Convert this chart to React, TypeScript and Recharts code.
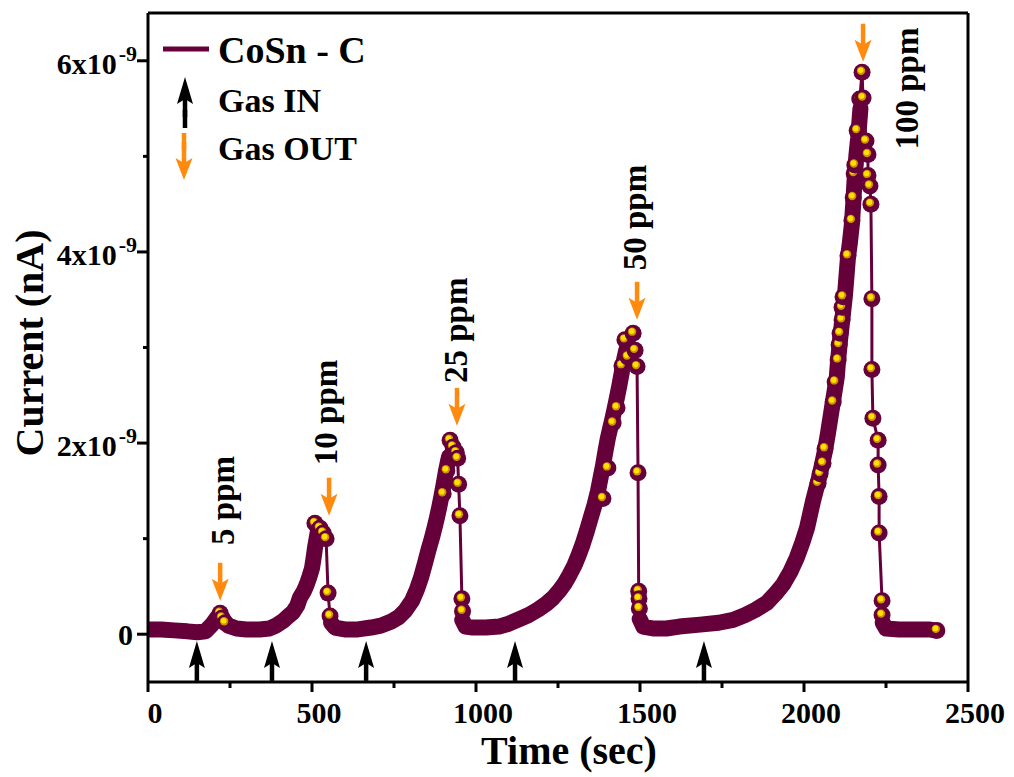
import React from "react";
import { ComposedChart, Line, Scatter, XAxis, YAxis, ReferenceLine } from "recharts";

// current values are in units of 1e-9 A (axis labels show "n x10^-9")
const bandTime = [
  0, 40, 80, 120, 150, 175, 195, 212, 228, 245, 270, 300, 340, 370, 390, 412, 428, 442, 455, 463, 475, 484, 492, 500, 505, 509, 514, 518,
  549,
  558, 570, 600, 640, 680, 710, 740, 765, 785, 805, 820, 833, 845, 855, 865, 874, 881, 888, 895, 902, 908, 914, 918,
  955,
  958, 968, 990, 1030, 1070, 1100, 1134, 1160, 1190, 1215, 1235, 1255, 1270, 1285, 1300, 1312, 1325, 1338, 1350, 1362, 1372, 1380, 1387, 1395, 1402, 1408, 1415, 1422, 1430, 1437, 1445, 1452, 1458, 1463,
  1495,
  1499, 1510, 1540, 1580, 1620, 1683, 1740, 1784, 1820, 1855, 1887, 1912, 1936, 1958, 1978, 1995, 2009, 2028, 2049, 2064, 2073, 2089, 2100, 2104, 2110, 2119, 2125, 2134, 2140, 2146, 2150, 2155, 2160, 2165, 2172,
  2220,
  2240, 2250, 2290, 2340, 2380, 2400,
];
const bandCurrent = [
  0.05, 0.05, 0.04, 0.03, 0.02, 0.03, 0.1, 0.18, 0.15, 0.09, 0.06, 0.05, 0.05, 0.06, 0.09, 0.14, 0.19, 0.23, 0.3, 0.38, 0.45, 0.52, 0.6, 0.69, 0.8, 0.9, 1.0, 1.08,
  null,
  0.12, 0.07, 0.05, 0.05, 0.07, 0.09, 0.13, 0.18, 0.25, 0.35, 0.47, 0.6, 0.75, 0.88, 1.0, 1.12, 1.22, 1.33, 1.45, 1.58, 1.7, 1.8, 1.86,
  null,
  0.15, 0.08, 0.07, 0.07, 0.08, 0.11, 0.16, 0.2, 0.26, 0.32, 0.38, 0.46, 0.53, 0.62, 0.72, 0.82, 0.94, 1.08, 1.22, 1.36, 1.5, 1.64, 1.76, 1.92, 2.05, 2.14, 2.24, 2.35, 2.48, 2.6, 2.75, 2.88, 2.97, 3.02,
  null,
  0.16, 0.08, 0.06, 0.06, 0.08, 0.1, 0.12, 0.15, 0.2, 0.26, 0.33, 0.42, 0.52, 0.65, 0.8, 0.96, 1.11, 1.4, 1.68, 1.92, 2.1, 2.45, 2.69, 2.87, 3.08, 3.36, 3.55, 3.94, 4.1, 4.29, 4.5, 4.8, 5.02, 5.19, 5.5,
  null,
  0.12, 0.06, 0.05, 0.05, 0.05, 0.04,
];

// individually visible markers (peaks, drops after gas out)
const peakTime = [
  220, 226, 235,
  300,
  509, 524, 534, 543, 549, 555,
  700,
  900, 911, 921, 930, 940, 944, 947, 951, 957, 959,
  1200,
  1387, 1402, 1418, 1430, 1445, 1454, 1463, 1479, 1485, 1491, 1494, 1496, 1497, 1498,
  1800,
  2043, 2049, 2058, 2064, 2089, 2095, 2104, 2107, 2110, 2116, 2116, 2119, 2134, 2146, 2150, 2153, 2155, 2162, 2170, 2177, 2180, 2189, 2195, 2195, 2201, 2204, 2207, 2207, 2210, 2226, 2226, 2229, 2229, 2238, 2238,
  2300,
  2405,
];
const peakCurrent = [
  0.22, 0.17, 0.12,
  null,
  1.16, 1.11, 1.06, 1.0, 0.43, 0.19,
  null,
  1.47, 1.71, 2.03, 1.96, 1.9, 1.84, 1.57, 1.24, 0.37, 0.24,
  null,
  1.42, 1.74, 2.21, 2.37, 2.81, 3.08, 2.9, 3.15, 2.97, 2.8, 1.69, 0.45, 0.37, 0.27,
  null,
  1.58, 1.68, 1.79, 1.94, 2.43, 2.64, 2.87, 3.03, 3.15, 3.29, 3.42, 3.53, 3.96, 4.33, 4.57, 4.82, 4.91, 5.27, 5.6, 5.88, 5.61, 5.16, 5.02, 4.8, 4.69, 4.5, 3.51, 2.77, 2.26, 2.03, 1.77, 1.44, 1.06, 0.35, 0.2,
  null,
  0.04,
];

const gasInTime = [149, 378, 665, 1119, 1695];
const gasInLevel = [-0.07, -0.07, -0.07, -0.07, -0.07];
const gasOutTime = [220, 552, 942, 1491, 2180];
const gasOutLevel = [0.35, 1.24, 2.18, 3.29, 5.99];

const concLabels = ["5 ppm", "10 ppm", "25 ppm", "50 ppm", "100 ppm"];
const concTime = [229, 543, 939, 1485, 2314];
const concLevel = [1.4, 2.32, 3.18, 4.36, 5.71];

const xTicks = [0, 250, 500, 750, 1000, 1250, 1500, 1750, 2000, 2250, 2500];
const yTicks = [0, 1, 2, 3, 4, 5, 6];
const legendLabels = ["CoSn - C", "Gas IN", "Gas OUT"];

const MAROON = "#66003A";
const ORANGE = "#FF8A0D";
const FONT = "'Liberation Serif', 'Times New Roman', serif";

const bandData = bandTime.map((t, i) => ({ t, current: bandCurrent[i] }));
const peakData = peakTime.map((t, i) => ({ t, current: peakCurrent[i] }));
const gasInData = gasInTime.map((t, i) => ({ t, current: gasInLevel[i] }));
const gasOutData = gasOutTime.map((t, i) => ({ t, current: gasOutLevel[i] }));
const concData = concTime.map((t, i) => ({ t, current: concLevel[i], label: concLabels[i] }));

const Ball = (props: any) => {
  const { cx, cy, value, index } = props;
  if (value == null || cx == null || cy == null || isNaN(cy)) return <g key={`b-${index}`} />;
  return (
    <g key={`b-${index}`}>
      <circle cx={cx} cy={cy} r={8.5} fill={MAROON} />
      <circle cx={cx - 1} cy={cy - 1.5} r={4.2} fill="#D08E00" />
      <circle cx={cx - 1.4} cy={cy - 2} r={2.8} fill="#FFE100" />
    </g>
  );
};

const UpArrow = ({ cx, cy }: any) => (
  <g>
    <line x1={cx} y1={cy + 18} x2={cx} y2={cy + 40} stroke="#000" strokeWidth={4.5} />
    <path d={`M${cx},${cy} L${cx - 8},${cy + 27} L${cx},${cy + 22} L${cx + 8},${cy + 27} Z`} fill="#000" />
  </g>
);

const DownArrow = ({ cx, cy }: any) => (
  <g>
    <line x1={cx} y1={cy - 38} x2={cx} y2={cy - 14} stroke={ORANGE} strokeWidth={4.5} />
    <path d={`M${cx},${cy} L${cx - 8.5},${cy - 22} L${cx},${cy - 17} L${cx + 8.5},${cy - 22} Z`} fill={ORANGE} />
  </g>
);

const ConcLabel = ({ cx, cy, payload }: any) => (
  <text
    x={cx}
    y={cy}
    transform={`rotate(-90, ${cx}, ${cy})`}
    textAnchor="middle"
    dominantBaseline="central"
    fontFamily={FONT}
    fontWeight={700}
    fontSize={33}
    fill="#000"
  >
    {payload.label}
  </text>
);

const XTick = ({ x, y, payload }: any) => {
  const v = payload.value;
  const major = v % 500 === 0;
  return (
    <g>
      <line x1={x} y1={y} x2={x} y2={y + (major ? 10 : 6)} stroke="#000" strokeWidth={3} />
      {major && (
        <text x={x + 7} y={y + 41} textAnchor="middle" fontFamily={FONT} fontWeight={700} fontSize={30} fill="#000">
          {v}
        </text>
      )}
    </g>
  );
};

const YTick = ({ x, y, payload }: any) => {
  const v = payload.value;
  const major = v % 2 === 0;
  return (
    <g>
      <line x1={x} y1={y} x2={x - (major ? 11 : 5)} y2={y} stroke="#000" strokeWidth={3} />
      {major && v === 0 && (
        <text x={x - 15} y={y + 11} textAnchor="end" fontFamily={FONT} fontWeight={700} fontSize={30} fill="#000">
          0
        </text>
      )}
      {major && v !== 0 && (
        <text x={x - 11} y={y + 13} textAnchor="end" fontFamily={FONT} fontWeight={700} fontSize={30} fill="#000">
          {v}x10
          <tspan dx={2} dy={-13} fontSize={22}>
            -9
          </tspan>
        </text>
      )}
    </g>
  );
};

export default function App() {
  return (
    <div style={{ position: "absolute", left: 0, top: 0, width: 1014, height: 777, background: "#fff" }}>
      <ComposedChart width={1014} height={777} margin={{ top: 13, right: 46, left: 0, bottom: 0 }}>
        <XAxis
          dataKey="t"
          type="number"
          domain={[0, 2500]}
          ticks={xTicks}
          interval={0}
          allowDataOverflow
          height={95}
          tickSize={0}
          tickMargin={0}
          tick={<XTick />}
          axisLine={{ stroke: "#000", strokeWidth: 3 }}
        />
        <YAxis
          type="number"
          domain={[-0.5, 6.5]}
          ticks={yTicks}
          interval={0}
          allowDataOverflow
          width={148}
          tickSize={0}
          tickMargin={0}
          tick={<YTick />}
          axisLine={{ stroke: "#000", strokeWidth: 3 }}
        />
        <ReferenceLine y={6.5} stroke="#000" strokeWidth={3} />
        <ReferenceLine x={2500} stroke="#000" strokeWidth={3} />
        <Line
          data={bandData}
          dataKey="current"
          stroke={MAROON}
          strokeWidth={16}
          strokeLinejoin="round"
          strokeLinecap="round"
          dot={false}
          activeDot={false}
          isAnimationActive={false}
        />
        <Line
          data={peakData}
          dataKey="current"
          name="CoSn - C"
          stroke={MAROON}
          strokeWidth={3}
          dot={Ball}
          activeDot={false}
          isAnimationActive={false}
        />
        <Scatter data={gasInData} dataKey="current" shape={UpArrow} isAnimationActive={false} />
        <Scatter data={gasOutData} dataKey="current" shape={DownArrow} isAnimationActive={false} />
        <Scatter data={concData} dataKey="current" shape={ConcLabel} isAnimationActive={false} />
      </ComposedChart>
      <svg
        width={1014}
        height={777}
        style={{ position: "absolute", left: 0, top: 0, pointerEvents: "none" }}
      >
        <g fontFamily={FONT} fontWeight={700} fill="#000">
          <text x={569} y={764} textAnchor="middle" fontSize={40}>
            Time (sec)
          </text>
          <text transform="translate(43,343) rotate(-90)" textAnchor="middle" fontSize={40}>
            Current (nA)
          </text>
          <line x1={163} y1={49} x2={209} y2={49} stroke={MAROON} strokeWidth={5} />
          <text x={218} y={63} fontSize={38}>
            {legendLabels[0]}
          </text>
          <UpArrow cx={185} cy={77} />
          <line x1={185} y1={110} x2={185} y2={128} stroke="#000" strokeWidth={4.5} />
          <text x={218} y={112} fontSize={34}>
            {legendLabels[1]}
          </text>
          <DownArrow cx={184} cy={180} />
          <line x1={184} y1={133} x2={184} y2={150} stroke={ORANGE} strokeWidth={4.5} />
          <text x={218} y={160} fontSize={34}>
            {legendLabels[2]}
          </text>
        </g>
      </svg>
    </div>
  );
}
